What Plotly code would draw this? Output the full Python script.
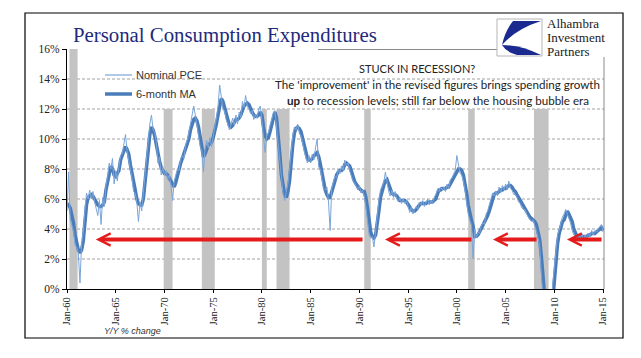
import plotly.graph_objects as go
import pandas as pd

# ---------------- data (bi-monthly, Jan 1960 .. Jan 2015), Y/Y % ----------------
nominal_pce = [
    5.2, 7.8, 4.6, 4.2, 3.9, 2.9,     # 1960
    2.8, 2.4, 0.4, 3.0, 3.8, 5.2,     # 1961
    6.4, 6.0, 6.6, 6.0, 6.5, 5.8,     # 1962
    5.4, 4.9, 5.9, 4.3, 6.1, 5.5,     # 1963
    6.9, 7.5, 8.4, 8.0, 8.7, 7.0,     # 1964
    7.9, 7.2, 8.2, 8.9, 9.0, 9.8,     # 1965
    10.3, 9.2, 8.6, 8.1, 7.4, 6.5,    # 1966
    6.4, 5.8, 4.5, 5.8, 5.2, 6.4,     # 1967
    7.6, 9.0, 10.0, 11.0, 11.6, 10.6, # 1968
    10.5, 9.8, 8.4, 8.8, 7.6, 8.1,    # 1969
    7.6, 7.9, 7.3, 7.6, 6.9, 5.9,     # 1970
    7.2, 7.6, 8.0, 7.9, 8.7, 8.9,     # 1971
    8.7, 9.6, 9.9, 10.4, 11.0, 11.5,  # 1972
    12.2, 11.6, 10.9, 10.5, 9.5, 9.2, # 1973
    7.8, 9.3, 9.9, 9.4, 10.1, 9.5,    # 1974
    10.3, 10.8, 11.4, 12.2, 13.6, 12.9,  # 1975
    12.0, 11.9, 11.3, 11.0, 10.6, 11.0,  # 1976
    11.4, 10.9, 11.6, 11.0, 11.8, 11.4,  # 1977
    12.5, 12.1, 12.9, 12.2, 12.0, 11.7,  # 1978
    11.9, 11.3, 11.6, 11.4, 12.0, 12.2,  # 1979
    11.0, 10.1, 9.1, 10.3, 10.4, 10.9,   # 1980
    11.4, 11.7, 11.9, 10.8, 9.6, 8.2,    # 1981
    7.0, 6.4, 5.9, 6.4, 7.0, 8.0,        # 1982
    9.3, 10.2, 10.8, 10.6, 11.0, 10.4,   # 1983
    10.2, 9.8, 9.2, 8.7, 8.4, 8.9,       # 1984
    8.4, 9.0, 8.6, 9.4, 10.0, 8.1,       # 1985
    8.0, 7.3, 6.6, 6.6, 6.8, 5.8,        # 1986
    3.9, 6.7, 7.1, 7.5, 7.4, 8.0,        # 1987
    7.7, 8.2, 7.9, 8.6, 8.2, 8.4,        # 1988
    7.9, 7.6, 7.2, 7.1, 6.8, 6.6,        # 1989
    6.9, 6.4, 6.6, 6.2, 5.5, 4.6,        # 1990
    3.6, 3.4, 3.5, 2.8, 4.0, 4.7,        # 1991
    5.9, 6.6, 6.8, 7.1, 7.8, 7.1,        # 1992
    6.5, 6.2, 6.6, 6.1, 6.5, 6.0,        # 1993
    5.8, 6.1, 5.7, 6.0, 5.7, 5.9,        # 1994
    5.4, 5.1, 5.5, 5.0, 5.3, 5.5,        # 1995
    5.3, 5.8, 5.6, 5.9, 5.5, 5.8,        # 1996
    6.0, 5.6, 5.9, 5.7, 6.1, 6.3,        # 1997
    6.6, 6.5, 6.8, 6.6, 6.8, 6.5,        # 1998
    7.0, 6.7, 7.3, 7.4, 7.7, 7.9,        # 1999
    8.9, 8.2, 7.7, 7.6, 7.2, 6.6,        # 2000
    5.6, 5.0, 4.6, 4.3, 2.0, 4.0,        # 2001
    3.4, 3.8, 3.7, 4.2, 4.4, 4.3,        # 2002
    5.0, 5.2, 5.6, 6.0, 6.4, 6.2,        # 2003
    6.5, 6.2, 6.8, 6.4, 6.9, 6.6,        # 2004
    7.0, 6.6, 7.2, 6.7, 6.6, 6.3,        # 2005
    6.3, 6.1, 5.8, 5.7, 5.4, 5.3,        # 2006
    5.3, 5.0, 4.8, 4.6, 4.5, 4.6,        # 2007
    4.2, 3.9, 3.4, 2.9, 1.0, -1.0,       # 2008
    -2.5, -3.2, -3.5, -2.8, -1.5, 0.3,   # 2009
    1.5, 2.8, 3.6, 3.9, 4.4, 4.8,        # 2010
    5.0, 5.3, 5.0, 4.7, 4.4, 3.9,        # 2011
    3.6, 3.5, 3.3, 3.6, 3.4, 3.7,        # 2012
    3.2, 3.6, 3.4, 3.7, 3.5, 3.9,        # 2013
    3.6, 3.9, 3.8, 4.0, 4.2, 4.3,        # 2014
    3.8,                                 # 2015
]

ma_6m = [
    5.7, 5.6, 5.4, 5.0, 4.4, 3.6,     # 1960
    3.0, 2.6, 2.4, 2.6, 3.2, 4.4,     # 1961
    5.6, 6.1, 6.2, 6.3, 6.2, 6.0,     # 1962
    5.7, 5.6, 5.5, 5.5, 5.6, 5.8,     # 1963
    6.6, 7.2, 7.8, 8.2, 8.0, 7.6,     # 1964
    7.5, 7.7, 7.9, 8.6, 8.9, 9.3,     # 1965
    9.5, 9.3, 9.0, 8.3, 7.8, 7.2,     # 1966
    6.6, 6.0, 5.7, 5.6, 5.6, 6.0,     # 1967
    7.0, 8.4, 9.5, 10.3, 10.8, 10.6,  # 1968
    10.2, 9.6, 8.9, 8.5, 8.1, 7.9,    # 1969
    7.7, 7.7, 7.6, 7.4, 7.2, 7.0,     # 1970
    6.8, 7.1, 7.6, 8.0, 8.4, 8.7,     # 1971
    9.0, 9.3, 9.7, 10.0, 10.6, 11.0,  # 1972
    11.3, 11.4, 11.2, 10.8, 10.1, 9.4,   # 1973
    8.8, 9.0, 9.4, 9.6, 9.7, 9.8,        # 1974
    10.1, 10.5, 11.0, 11.6, 12.3, 12.7,  # 1975
    12.5, 12.1, 11.6, 11.2, 10.9, 10.8,  # 1976
    10.9, 11.1, 11.3, 11.3, 11.4, 11.6,  # 1977
    11.9, 12.2, 12.3, 12.4, 12.3, 12.0,  # 1978
    11.8, 11.6, 11.5, 11.5, 11.6, 11.8,  # 1979
    11.6, 10.8, 10.2, 10.0, 10.1, 10.5,  # 1980
    11.0, 11.5, 11.8, 11.4, 10.4, 9.0,   # 1981
    7.6, 6.8, 6.3, 6.1, 6.5, 7.2,        # 1982
    8.6, 9.6, 10.4, 10.7, 10.8, 10.7,    # 1983
    10.5, 10.1, 9.6, 9.1, 8.7, 8.6,      # 1984
    8.6, 8.7, 8.9, 9.0, 9.1, 8.8,        # 1985
    8.3, 7.7, 7.0, 6.6, 6.3, 6.1,        # 1986
    6.1, 6.5, 6.9, 7.3, 7.6, 7.8,        # 1987
    7.9, 7.9, 8.0, 8.3, 8.4, 8.3,        # 1988
    8.2, 7.9, 7.5, 7.2, 7.0, 6.8,        # 1989
    6.7, 6.6, 6.5, 6.5, 6.1, 5.4,        # 1990
    4.5, 3.8, 3.5, 3.4, 3.6, 4.3,        # 1991
    5.2, 6.1, 6.6, 6.9, 7.2, 7.3,        # 1992
    7.0, 6.6, 6.4, 6.3, 6.3, 6.2,        # 1993
    6.0, 5.9, 5.9, 5.9, 5.9, 5.8,        # 1994
    5.6, 5.4, 5.3, 5.2, 5.2, 5.3,        # 1995
    5.5, 5.6, 5.7, 5.7, 5.7, 5.7,        # 1996
    5.8, 5.8, 5.8, 5.8, 5.9, 6.0,        # 1997
    6.3, 6.6, 6.6, 6.7, 6.7, 6.7,        # 1998
    6.8, 6.8, 7.0, 7.2, 7.5, 7.7,        # 1999
    7.9, 8.0, 8.0, 7.9, 7.6, 7.1,        # 2000
    6.4, 5.6, 5.0, 4.6, 4.2, 3.5,        # 2001
    3.5, 3.6, 3.8, 4.0, 4.2, 4.4,        # 2002
    4.6, 4.9, 5.2, 5.6, 6.0, 6.3,        # 2003
    6.4, 6.4, 6.5, 6.6, 6.6, 6.7,        # 2004
    6.7, 6.8, 6.9, 6.9, 6.8, 6.6,        # 2005
    6.5, 6.3, 6.1, 5.9, 5.7, 5.5,        # 2006
    5.4, 5.2, 5.0, 4.8, 4.7, 4.6,        # 2007
    4.5, 4.3, 3.9, 3.3, 2.2, 0.5,        # 2008
    -1.2, -2.4, -3.0, -3.0, -2.2, -0.8,  # 2009
    0.5, 1.9, 3.0, 3.7, 4.1, 4.5,        # 2010
    4.6, 4.9, 5.2, 5.0, 4.8, 4.5,        # 2011
    4.0, 3.7, 3.5, 3.4, 3.5, 3.5,        # 2012
    3.5, 3.5, 3.5, 3.6, 3.6, 3.7,        # 2013
    3.7, 3.7, 3.8, 3.9, 4.0, 4.1,        # 2014
    3.9,                                 # 2015
]

recession_starts = ["1960-04-01", "1969-12-01", "1973-11-01", "1980-01-01",
                    "1981-07-01", "1990-07-01", "2001-03-01", "2007-12-01"]
recession_ends = ["1961-02-01", "1970-11-01", "1975-03-01", "1980-07-01",
                  "1982-11-01", "1991-03-01", "2001-11-01", "2009-06-01"]
recession_tops = [16, 12, 12, 12, 12, 12, 12, 12]

arrow_heads = ["1962-12-15", "1992-08-17", "2003-09-16", "2011-04-20"]
arrow_tails = ["1990-06-25", "2001-08-28", "2008-05-01", "2015-01-01"]
arrow_level = 3.3

x_tick_vals = [f"{y}-01-01" for y in range(1960, 2016, 5)]
x_tick_text = ["Jan-60", "Jan-65", "Jan-70", "Jan-75", "Jan-80", "Jan-85",
               "Jan-90", "Jan-95", "Jan-00", "Jan-05", "Jan-10", "Jan-15"]
y_tick_vals = [0, 2, 4, 6, 8, 10, 12, 14, 16]
y_tick_text = ["0%", "2%", "4%", "6%", "8%", "10%", "12%", "14%", "16%"]

dates = pd.date_range("1960-01-01", periods=len(ma_6m), freq="2MS")

# ---------------- layout helpers (page pixel -> paper) ----------------
OFF = 8                       # default page body margin
PAGE_W, PAGE_H = 641, 358
W, H = PAGE_W - OFF, PAGE_H - OFF
L, R, T, B = 67, 604, 49, 289  # plot area in page pixels


def xp(px):
    return (px - L) / (R - L)


def yp(py):
    return (B - py) / (B - T)


SERIF = "Liberation Serif"
SANS = "Liberation Sans"
NAVY = "#1f2a7c"
THIN = "#7aa5da"
THICK = "#4a7cba"
RED = "#e51a1a"

fig = go.Figure()

fig.add_trace(go.Scatter(x=dates, y=ma_6m, mode="lines", name="6-month MA",
                         line=dict(color=THICK, width=3.5), showlegend=False))
fig.add_trace(go.Scatter(x=dates, y=nominal_pce, mode="lines", name="Nominal PCE",
                         line=dict(color=THIN, width=1), showlegend=False))

shapes = []
for s, e, top in zip(recession_starts, recession_ends, recession_tops):
    shapes.append(dict(type="rect", xref="x", yref="y", x0=s, x1=e, y0=0, y1=top,
                       fillcolor="#c3c3c3", line=dict(width=0), layer="below"))
for v in y_tick_vals[1:-1]:
    shapes.append(dict(type="line", xref="paper", yref="y", x0=0, x1=1, y0=v, y1=v,
                       line=dict(color="#a0a0a0", width=1, dash="3px,2px"), layer="below"))
# outer frame
shapes.append(dict(type="rect", xref="paper", yref="paper", x0=xp(25), x1=xp(623),
                   y0=yp(338), y1=yp(13), line=dict(color="black", width=1.2)))
# top / right rules of the plot area
shapes.append(dict(type="line", xref="paper", yref="paper", x0=xp(318), x1=xp(497),
                   y0=yp(49.5), y1=yp(49.5), line=dict(color="#8a8a8a", width=1)))
shapes.append(dict(type="line", xref="paper", yref="paper", x0=xp(604), x1=xp(604),
                   y0=yp(289), y1=yp(57), line=dict(color="#8a8a8a", width=1)))
# legend samples
shapes.append(dict(type="line", xref="paper", yref="paper", x0=xp(105), x1=xp(132),
                   y0=yp(75), y1=yp(75), line=dict(color=THIN, width=1.2)))
shapes.append(dict(type="line", xref="paper", yref="paper", x0=xp(105), x1=xp(132),
                   y0=yp(94), y1=yp(94), line=dict(color=THICK, width=3.5)))
# logo box
shapes.append(dict(type="rect", xref="paper", yref="paper", x0=xp(497), x1=xp(542),
                   y0=yp(56), y1=yp(19), fillcolor="white", line=dict(color="#b5b5b5", width=1)))


def P(x, y):
    return f"{xp(x):.5f},{yp(y):.5f}"


upper = f"M{P(513,21)} L{P(541,21)} Q{P(516,29)} {P(502,45)} Q{P(505,31)} {P(513,21)} Z"
lower = f"M{P(502,45)} Q{P(521,45)} {P(541,55)} L{P(517,55)} Q{P(506,52)} {P(502,45)} Z"
for pth in (upper, lower):
    shapes.append(dict(type="path", xref="paper", yref="paper", path=pth,
                       fillcolor="#1b2a8f", line=dict(width=0)))

ann = []
ann.append(dict(text="Personal Consumption Expenditures", x=xp(71), y=yp(35),
                xref="paper", yref="paper", xanchor="left", yanchor="middle",
                showarrow=False, font=dict(family=SERIF, size=20.8, color=NAVY)))
for i, word in enumerate(["Alhambra", "Investment", "Partners"]):
    ann.append(dict(text=word, x=xp(545), y=yp(24 + 14 * i), xref="paper", yref="paper",
                    xanchor="left", yanchor="middle", showarrow=False,
                    font=dict(family=SERIF, size=13, color="#1a1a1a")))
ann.append(dict(text="Nominal PCE", x=xp(134), y=yp(75), xref="paper", yref="paper",
                xanchor="left", yanchor="middle", showarrow=False,
                font=dict(family=SANS, size=11, color="#333333")))
ann.append(dict(text="6-month MA", x=xp(134), y=yp(94), xref="paper", yref="paper",
                xanchor="left", yanchor="middle", showarrow=False,
                font=dict(family=SANS, size=11, color="#333333")))
ann.append(dict(text="STUCK IN RECESSION?", x=xp(417), y=yp(68), xref="paper", yref="paper",
                xanchor="center", yanchor="middle", showarrow=False,
                font=dict(family="Lato", size=11, color="#222222")))
ann.append(dict(text="The 'improvement' in the revised figures brings spending growth",
                x=xp(437.5), y=yp(84), xref="paper", yref="paper",
                xanchor="center", yanchor="middle", showarrow=False,
                font=dict(family="Lato", size=11.6, color="#222222")))
ann.append(dict(text="<b>up</b> to recession levels; still far below the housing bubble era",
                x=xp(437.5), y=yp(100), xref="paper", yref="paper",
                xanchor="center", yanchor="middle", showarrow=False,
                font=dict(family="Lato", size=11.6, color="#222222")))
ann.append(dict(text="<i>Y/Y % change</i>", x=xp(102), y=yp(331), xref="paper", yref="paper",
                xanchor="left", yanchor="middle", showarrow=False,
                font=dict(family=SANS, size=9, color="#333333")))
for h, t in zip(arrow_heads, arrow_tails):
    ann.append(dict(x=h, y=arrow_level, xref="x", yref="y", ax=t, ay=arrow_level,
                    axref="x", ayref="y", text="", showarrow=True, arrowhead=5,
                    arrowsize=0.6, arrowwidth=4, arrowcolor=RED, standoff=0))

fig.update_layout(
    width=W, height=H, autosize=False,
    margin=dict(l=L - OFF, r=PAGE_W - R, t=T - OFF, b=PAGE_H - B),
    paper_bgcolor="white", plot_bgcolor="white",
    shapes=shapes, annotations=ann, showlegend=False,
    xaxis=dict(type="date", range=["1960-01-01", "2015-02-06"],
               tickmode="array", tickvals=x_tick_vals, ticktext=x_tick_text,
               tickangle=-90, ticks="outside", ticklen=3, tickcolor="black",
               showline=True, linecolor="black", linewidth=1.2, showgrid=False,
               zeroline=False, tickfont=dict(family=SERIF, size=10.5, color="#222222"),
               automargin=False),
    yaxis=dict(range=[0, 16], tickmode="array", tickvals=y_tick_vals, ticktext=y_tick_text,
               ticks="outside", ticklen=4, tickcolor="black",
               showline=True, linecolor="black", linewidth=1.2, showgrid=False,
               zeroline=False, tickfont=dict(family=SERIF, size=11.5, color="#222222"),
               automargin=False),
)

fig.write_html("out.html")
